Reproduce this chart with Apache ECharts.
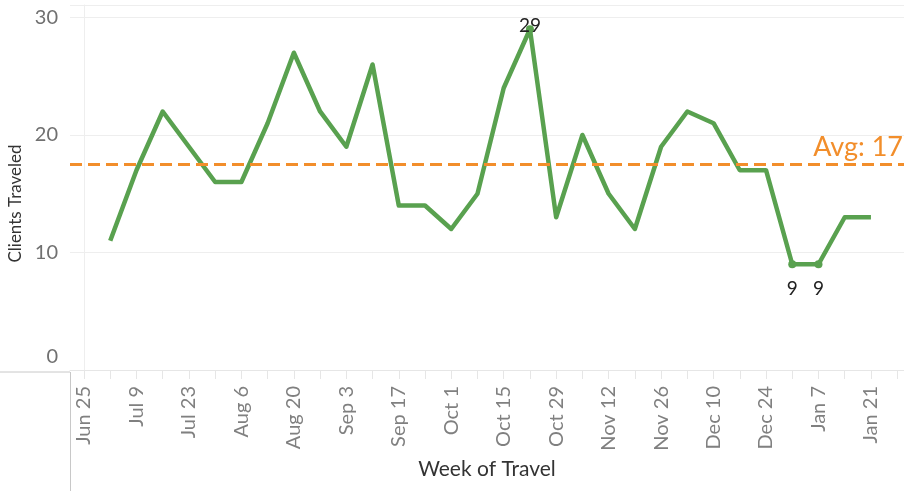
<!DOCTYPE html>
<html>
<head>
<meta charset="utf-8">
<script src="https://cdn.jsdelivr.net/npm/echarts@6/dist/echarts.min.js"></script>
<style>
  html, body { margin: 0; padding: 0; background: #fff; }
  #chart { width: 904px; height: 491px; }
</style>
</head>
<body>
<div id="chart"></div>
<script>
// week starting dates (index 0 = Jun 25)
var weeks = ["Jun 25", "Jul 2", "Jul 9", "Jul 16", "Jul 23", "Jul 30", "Aug 6", "Aug 13",
  "Aug 20", "Aug 27", "Sep 3", "Sep 10", "Sep 17", "Sep 24", "Oct 1", "Oct 8", "Oct 15",
  "Oct 22", "Oct 29", "Nov 5", "Nov 12", "Nov 19", "Nov 26", "Dec 3", "Dec 10", "Dec 17",
  "Dec 24", "Dec 31", "Jan 7", "Jan 14", "Jan 21"];
// clients traveled per week (no data for Jun 25)
var clients = [null, 11, 17, 22, 19, 16, 16, 21, 27, 22, 19, 26, 14, 14, 12, 15, 24,
  29, 13, 20, 15, 12, 19, 22, 21, 17, 17, 9, 9, 13, 13];
var yTicks = [0, 10, 20, 30];

var font = "Lato, 'Open Sans', sans-serif";
var green = "#59A14F";
var orange = "#F28E2B";

var vals = clients.filter(function (v) { return v != null; });
var maxV = Math.max.apply(null, vals);
var minV = Math.min.apply(null, vals);
var avg = vals.reduce(function (a, b) { return a + b; }, 0) / vals.length;

var seriesData = [];
clients.forEach(function (v, i) {
  if (v == null) return;
  var item = { value: [i, v] };
  if (v === maxV || v === minV) {
    item.symbol = "circle";
    item.symbolSize = 8;
    item.label = {
      show: true,
      position: v === maxV ? "top" : "bottom",
      distance: v === maxV ? -10 : 11,
      color: "#222",
      fontSize: 19,
      fontFamily: font,
    };
  }
  seriesData.push(item);
});

var tickIdx = [];
for (var i = 0; i <= 31; i++) tickIdx.push(i);
var labelIdx = [];
for (var j = 0; j < weeks.length; j += 2) labelIdx.push(j);

var xMin = -0.534, xMax = 31.26;

var myChart = echarts.init(document.getElementById("chart"));
var option = {
  backgroundColor: "#fff",
  animation: false,
  grid: { left: 70, right: 0, top: 5, bottom: 121, outerBoundsMode: "none", containLabel: false },
  xAxis: {
    type: "value",
    min: xMin,
    max: xMax,
    name: "Week of Travel",
    nameLocation: "middle",
    nameGap: 88,
    nameTextStyle: { color: "#333", fontSize: 21, fontFamily: font },
    axisLine: { show: true, lineStyle: { color: "#e6e6e6", width: 1 } },
    axisTick: {
      show: true,
      customValues: tickIdx,
      length: 9,
      lineStyle: { color: "#e6e6e6" },
    },
    axisLabel: {
      customValues: labelIdx,
      rotate: 90,
      margin: 16,
      color: "#808080",
      fontSize: 20,
      fontFamily: font,
      formatter: function (v) { return weeks[Math.round(v)] || ""; },
    },
    splitLine: { show: false },
  },
  yAxis: {
    type: "value",
    min: 0,
    max: 31.06,
    interval: 10,
    name: "Clients Traveled",
    nameLocation: "middle",
    nameGap: 44,
    nameTextStyle: { color: "#333", fontSize: 17, fontFamily: font, padding: [0, 32, 0, 0] },
    axisLine: { show: true, lineStyle: { color: "#eeeeee" } },
    axisTick: { show: false },
    axisLabel: {
      margin: 12,
      color: "#707070",
      fontSize: 20,
      fontFamily: font,
      formatter: function (v) {
        if (yTicks.indexOf(v) < 0) return "";
        return v === 0 ? "{z|0}" : String(v);
      },
      rich: { z: { fontSize: 20, color: "#707070", fontFamily: font, padding: [0, 0, 26, 0] } },
    },
    splitLine: { lineStyle: { color: "#eeeeee", width: 1 } },
  },
  graphic: [
    { type: "line", shape: { x1: 70, y1: 5.5, x2: 904, y2: 5.5 }, style: { stroke: "#d0d0d0", lineWidth: 1 } },
    { type: "line", shape: { x1: 0, y1: 372, x2: 70, y2: 372 }, style: { stroke: "#c8c8c8", lineWidth: 1 } },
    { type: "line", shape: { x1: 70.5, y1: 372, x2: 70.5, y2: 491 }, style: { stroke: "#c8c8c8", lineWidth: 1 } },
  ],
  series: [
    {
      type: "line",
      data: seriesData,
      symbol: "none",
      showSymbol: true,
      lineStyle: { color: green, width: 4.5, join: "round" },
      itemStyle: { color: green },
      z: 3,
      markLine: {
        silent: true,
        symbol: "none",
        data: [{ yAxis: avg }],
        lineStyle: { color: orange, width: 3, type: [12, 6] },
        label: {
          show: true,
          position: "insideEndTop",
          distance: [1, 4],
          color: orange,
          fontSize: 27,
          fontFamily: font,
          formatter: function () { return "Avg: " + Math.round(avg); },
        },
      },
    },
  ],
};
myChart.setOption(option);
window.onresize = function () {
  myChart.resize();
};
</script>
</body>
</html>
